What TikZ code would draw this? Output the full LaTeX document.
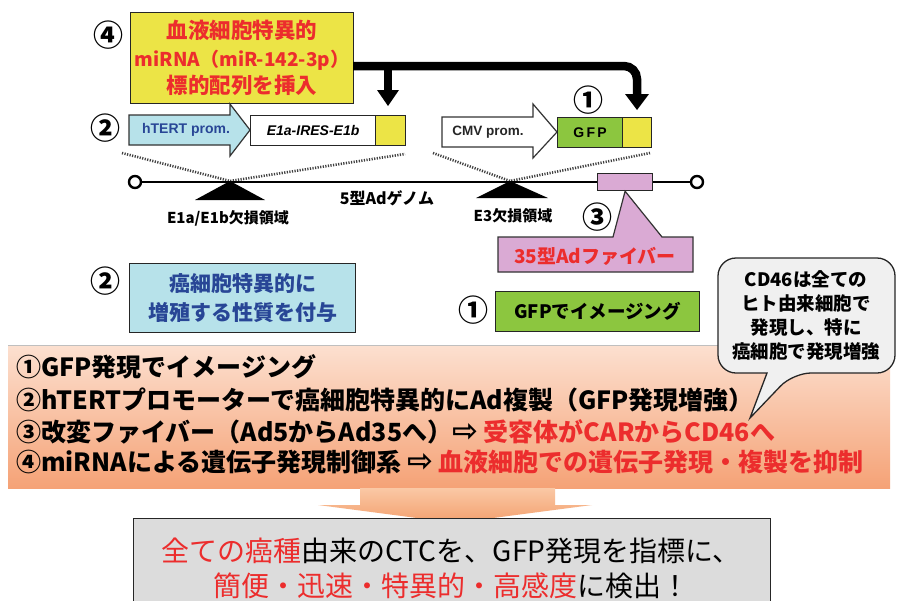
\documentclass[tikz,border=0pt]{standalone}
\usepackage{fontspec}
\setmainfont{Noto Sans CJK JP}
\newfontfamily\lat{Liberation Sans}
\newfontfamily\dejavu{DejaVu Sans}
\usetikzlibrary{calc}
\definecolor{myred}{RGB}{236,45,45}
\definecolor{myyellow}{RGB}{236,228,70}
\definecolor{myblue}{RGB}{183,226,234}
\definecolor{mygreen}{RGB}{140,198,63}
\definecolor{mypink}{RGB}{218,170,212}
\definecolor{salTop}{RGB}{252,224,208}
\definecolor{salBot}{RGB}{245,162,118}
\definecolor{arrTop}{RGB}{250,200,165}
\definecolor{arrBot}{RGB}{243,160,110}
\definecolor{mygray}{RGB}{220,220,220}
\definecolor{bubble}{RGB}{240,240,240}
\definecolor{dblue}{RGB}{40,70,150}
\newcommand{\warr}{{\dejavu\fontsize{31}{25}\selectfont ⇨}}
\tikzset{
  box/.style={draw=black!85, line width=1.2pt, inner sep=0pt},
  circnum/.style={font=\bfseries\fontsize{30}{30}\selectfont, inner sep=0pt},
  lbl/.style={font=\bfseries\fontsize{15}{15}\selectfont, inner sep=0pt},
  salline/.style={font=\bfseries\fontsize{25}{25}\selectfont, inner sep=0pt, anchor=west},
  dotline/.style={line width=2.6pt, dash pattern=on 1.2pt off 1.4pt, black!75},
}
\begin{document}
\begin{tikzpicture}[x=1pt,y=-1pt]
\useasboundingbox (0,0) rectangle (897,600);
\fill[white] (0,0) rectangle (897,600);

% ---- top: yellow box ----
\node[circnum] (n4) at (108,35) {④};
\node[box, fill=myyellow, minimum width=223pt, minimum height=91pt, anchor=north west,
      font=\bfseries\fontsize{21.5}{27.5}\selectfont, text=myred, align=center] (ybox) at (130,12)
      {血液細胞特異的\\{\fontsize{19}{27.5}\selectfont miRNA（miR-142-3p）}\\標的配列を挿入};

% ---- construct row ----
\node[circnum] (n2a) at (105,128) {②};
\draw[fill=myblue, draw=black!80, line width=1.2pt] (129,115) -- (230,115) -- (230,104) -- (250,130) -- (230,156) -- (230,145) -- (129,145) -- cycle;
\node[font=\bfseries\fontsize{14}{14}\selectfont, text=dblue] (htert) at (186,130) {\lat hTERT prom.};
\node[box, fill=white, minimum width=125pt, minimum height=30pt, anchor=north west,
      font=\bfseries\itshape\fontsize{14}{14}\selectfont] (e1a) at (250,115) {\lat E1a-IRES-E1b};
\node[box, fill=myyellow, minimum width=30pt, minimum height=30pt, anchor=north west] (y1) at (375,115) {};

\draw[fill=white, draw=black!80, line width=1.2pt] (442,117) -- (533,117) -- (533,104) -- (557,132) -- (533,158) -- (533,147) -- (442,147) -- cycle;
\node[font=\bfseries\fontsize{13.5}{14}\selectfont, text=black!85] (cmv) at (488,132) {\lat CMV prom.};
\node[box, fill=mygreen, minimum width=65pt, minimum height=30pt, anchor=north west,
      font=\bfseries\fontsize{14}{14}\selectfont] (gfp) at (557,117) {\lat G\,F\,P};
\node[box, fill=myyellow, minimum width=29pt, minimum height=30pt, anchor=north west] (y2) at (622,117) {};
\node[circnum] (n1a) at (588,100) {①};

% ---- thick connector ----
\coordinate (cs) at (353,66);
\coordinate (cb) at (388,66);
\draw[line width=8.5pt, rounded corners=13pt] (cs) -- (637,66) -- (637,96);
\fill (625,94) -- (649,94) -- (637,110) -- cycle;
\draw[line width=8.5pt] (cb) -- (388,91);
\fill (377,90) -- (399,90) -- (388,106) -- cycle;

% ---- dotted zoom lines ----
\coordinate (apL) at (230,181);
\coordinate (apR) at (510,181);
\draw[dotline] (122,153) -- (apL) -- (405,154);
\draw[dotline] (433,153) -- (apR) -- (650,153);

% ---- genome ----
\draw[line width=2.6pt] (141,182) -- (691,182);
\node[draw, line width=2.4pt, circle, fill=white, minimum size=12pt, inner sep=0pt] (gl) at (135,182) {};
\node[draw, line width=2.4pt, circle, fill=white, minimum size=12pt, inner sep=0pt] (gr) at (697,182) {};
\fill (apL) -- (265,200) -- (195,200) -- cycle;
\fill (apR) -- (548,198) -- (476,198) -- cycle;
\node[box, fill=mypink, minimum width=55pt, minimum height=17pt, anchor=north west] (fib) at (597,173) {};
\node[lbl] (lab1) at (228,218) {E1a/E1b欠損領域};
\node[font=\bfseries\fontsize{16}{16}\selectfont, inner sep=0pt] (lab2) at (387,198) {5型Adゲノム};
\node[lbl] (lab3) at (513,216) {E3欠損領域};

% ---- fiber callout ----
\draw[fill=mypink, draw=black!80, line width=1.2pt] (498,237) -- (613,237) -- (fib.south) -- (662,237) -- (693,237) -- (693,272) -- (498,272) -- cycle;
\node[font=\bfseries\fontsize{19}{19}\selectfont, text=myred, inner sep=0pt] (fibtxt) at (595,256) {35型Adファイバー};
\node[circnum] (n3) at (597,217) {③};

% ---- mid boxes ----
\node[circnum] (n2b) at (105,281) {②};
\node[box, fill=myblue, minimum width=226pt, minimum height=69pt, anchor=north west,
      font=\bfseries\fontsize{21}{29}\selectfont, text=dblue, align=center] (cbox) at (129,263)
      {癌細胞特異的に\\増殖する性質を付与};
\node[circnum] (n1b) at (473,310) {①};
\node[box, fill=mygreen, minimum width=204pt, minimum height=40pt, anchor=north west,
      font=\bfseries\fontsize{18.5}{18.5}\selectfont] (gbox) at (495,291) {GFPでイメージング};

% ---- salmon summary ----
\shade[top color=salTop, bottom color=salBot] (8,345) rectangle (890,488);
\draw[black!25, line width=1pt] (8,345) -- (890,345);
\node[salline] (s1) at (16,367) {①GFP発現でイメージング};
\node[salline] (s2) at (16,400) {②hTERTプロモーターで癌細胞特異的にAd複製（GFP発現増強）};
\node[salline] (s3) at (16,432) {③改変ファイバー（Ad5からAd35へ）\warr\ \textcolor{myred}{受容体がCARからCD46へ}};
\node[salline] (s4) at (16,462) {④miRNAによる遺伝子発現制御系 \warr\ \textcolor{myred}{血液細胞での遺伝子発現・複製を抑制}};

% ---- speech bubble ----
\draw[fill=bubble, draw=black!85, line width=1.3pt, rounded corners=18pt]
  (718,258) -- (895,258) -- (895,373) -- (793,373) [sharp corners] -- (750,418) -- (767,373) [rounded corners=18pt] -- (718,373) -- cycle;
\node[font=\bfseries\fontsize{18.5}{24}\selectfont, align=center, inner sep=0pt] (btxt) at (806,315)
  {CD46は全ての\\ヒト由来細胞で\\発現し、特に\\癌細胞で発現増強};

% ---- down arrow ----
\shade[top color=arrTop, bottom color=arrBot] (360,488) -- (555,488) -- (555,505) -- (592,505) -- (455,523) -- (318,505) -- (360,505) -- cycle;

% ---- bottom conclusion ----
\node[draw=black!85, line width=1.3pt, fill=mygray, minimum width=637pt, minimum height=100pt, anchor=north west, inner sep=0pt] (concl) at (133,518) {};
\node[font=\fontsize{28}{28}\selectfont, inner sep=0pt] (c1) at (451,551) {\textcolor{myred}{全ての癌種}由来のCTCを、GFP発現を指標に、};
\node[font=\fontsize{28}{28}\selectfont, inner sep=0pt] (c2) at (451,586) {\textcolor{myred}{簡便・迅速・特異的・高感度}に検出！};
\end{tikzpicture}
\end{document}
